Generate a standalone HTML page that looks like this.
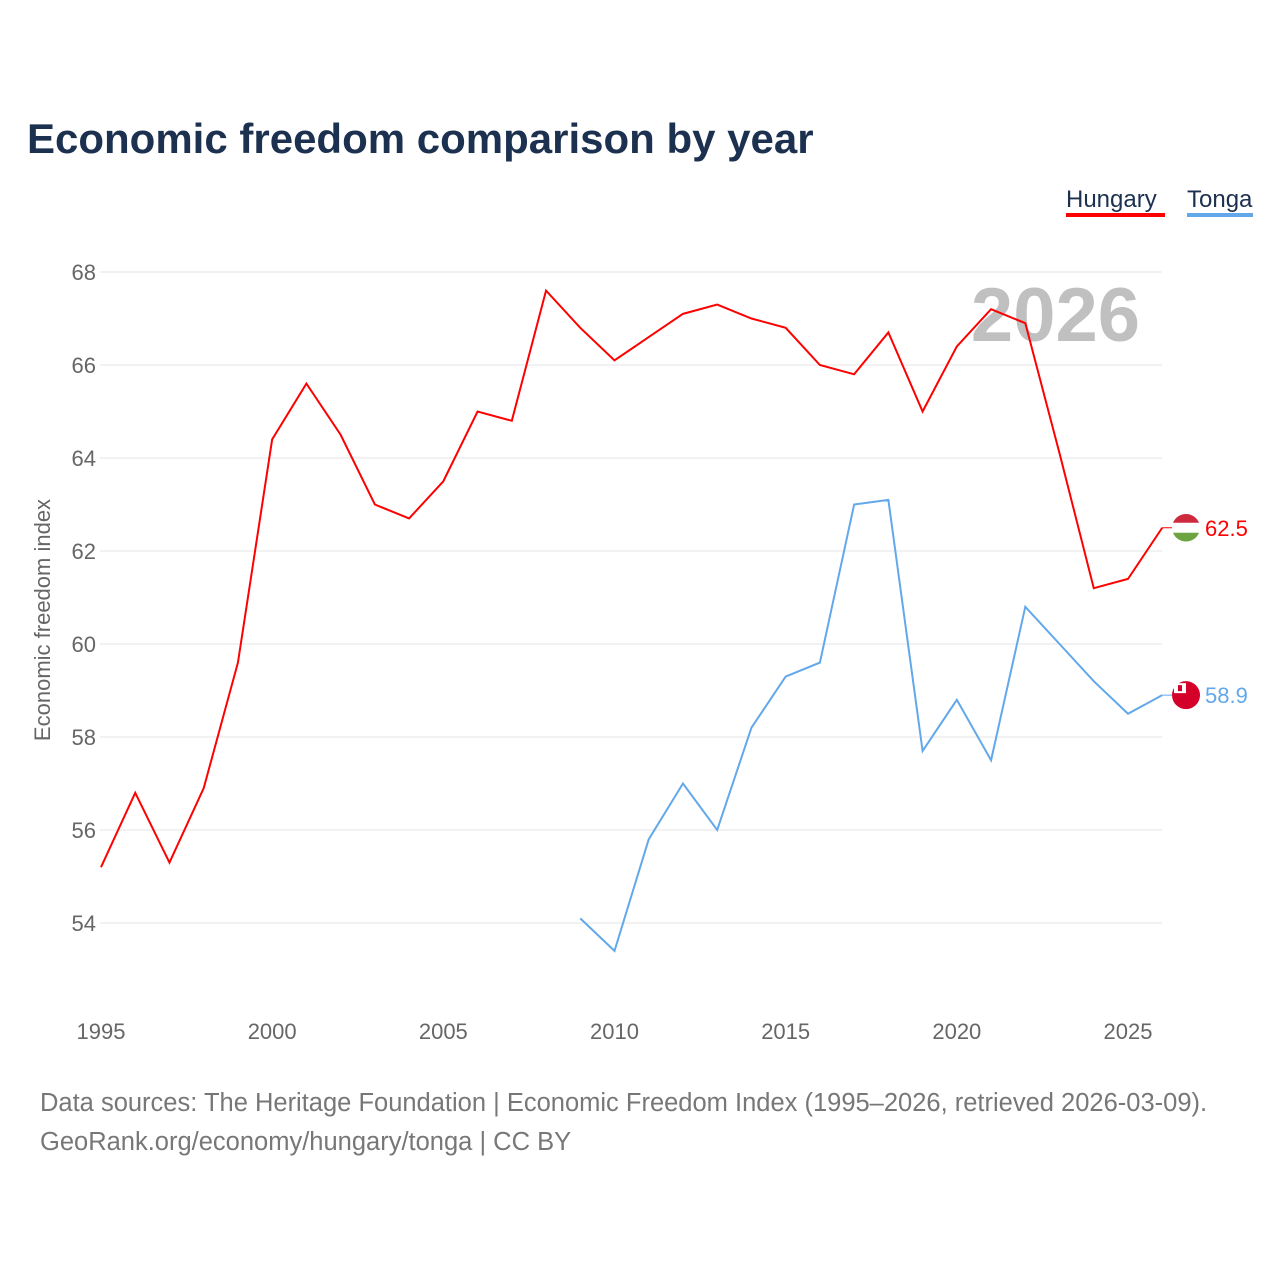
<!DOCTYPE html>
<html><head><meta charset="utf-8"><style>
body{margin:0;background:#fff;font-family:"Liberation Sans",sans-serif;}
</style></head><body>
<svg width="1280" height="1280" xmlns="http://www.w3.org/2000/svg">
<text x="27" y="153" font-size="42" font-weight="bold" fill="#1c3150">Economic freedom comparison by year</text>
<g>
<text x="1066" y="207" font-size="24" fill="#1c3150">Hungary</text>
<rect x="1066" y="213" width="99" height="4" fill="#ff0000"/>
<text x="1187" y="207" font-size="24" fill="#1c3150">Tonga</text>
<rect x="1187" y="213" width="66" height="4" fill="#62a8ea"/>
</g>
<text x="1140" y="341" font-size="76" font-weight="bold" fill="#c0c0c0" text-anchor="end">2026</text>
<g id="grid"></g><g id="lines"></g>
<text transform="translate(50,620) rotate(-90)" font-size="22" fill="#666" text-anchor="middle">Economic freedom index</text>
<text x="40" y="1111" font-size="25.5" fill="#777">Data sources: The Heritage Foundation | Economic Freedom Index (1995–2026, retrieved 2026-03-09).</text>
<text x="40" y="1150" font-size="25.5" fill="#777">GeoRank.org/economy/hungary/tonga | CC BY</text>
</svg>
<script>
const yTicks=[54,56,58,60,62,64,66,68];
const xTicks=[1995,2000,2005,2010,2015,2020,2025];
const hungaryYears=[1995,1996,1997,1998,1999,2000,2001,2002,2003,2004,2005,2006,2007,2008,2009,2010,2011,2012,2013,2014,2015,2016,2017,2018,2019,2020,2021,2022,2023,2024,2025,2026];
const hungaryValues=[55.2,56.8,55.3,56.9,59.6,64.4,65.6,64.5,63.0,62.7,63.5,65.0,64.8,67.6,66.8,66.1,66.6,67.1,67.3,67.0,66.8,66.0,65.8,66.7,65.0,66.4,67.2,66.9,64.1,61.2,61.4,62.5];
const tongaYears=[2009,2010,2011,2012,2013,2014,2015,2016,2017,2018,2019,2020,2021,2022,2023,2024,2025,2026];
const tongaValues=[54.1,53.4,55.8,57.0,56.0,58.2,59.3,59.6,63.0,63.1,57.7,58.8,57.5,60.8,60.0,59.2,58.5,58.9];
const NS="http://www.w3.org/2000/svg";
const xs=y=>101+(y-1995)*(1128-101)/30;
const ys=v=>272+(68-v)*(923-272)/14;
function mk(t,a,p){const e=document.createElementNS(NS,t);for(const k in a)e.setAttribute(k,a[k]);p.appendChild(e);return e;}
const g=document.getElementById('grid'),L=document.getElementById('lines');
yTicks.forEach(v=>{
 const l=mk('line',{x1:100,x2:1162,y1:ys(v),y2:ys(v),stroke:'#e6e6e6','stroke-width':1},g);
 
 
 const t=mk('text',{x:96,y:ys(v)+8,'font-size':22,fill:'#666','text-anchor':'end'},g);t.textContent=v;
 
 
});
xTicks.forEach(y=>{
 const t=mk('text',{x:xs(y),y:1039,'font-size':22,fill:'#666','text-anchor':'middle'},g);t.textContent=y;
 
 
});
function series(yrs,vals,col,name){
 const p=mk('polyline',{points:yrs.map((y,i)=>xs(y)+','+ys(vals[i])).join(' '),fill:'none',stroke:col,'stroke-width':2},L);
 
 
 const lx=xs(yrs[yrs.length-1]),ly=ys(vals[vals.length-1]);
 mk('line',{x1:lx,x2:1176,y1:ly,y2:ly,stroke:col,'stroke-width':1},L);
 const c=mk('circle',{cx:1186,cy:ly,r:14,fill:name==='hungary'?'#fff':'#d4002a'},L);
 
 
 if(name==='hungary'){
  mk('path',{d:`M1173 ${ly-5} A14 14 0 0 1 1199 ${ly-5} Z`,fill:'#cd2a3e'},L);
  mk('path',{d:`M1173 ${ly+5} A14 14 0 0 0 1199 ${ly+5} Z`,fill:'#6ea342'},L);
 } else {
  mk('rect',{x:1174,y:ly-12,width:12,height:10,fill:'#fff'},L);
  mk('rect',{x:1178,y:ly-10,width:4,height:6,fill:'#d4002a'},L);
 }
 const t=mk('text',{x:1205,y:ly+8,'font-size':22,fill:col},L);t.textContent=vals[vals.length-1].toFixed(1);
 
 
}
series(hungaryYears,hungaryValues,'#ff0000','hungary');
series(tongaYears,tongaValues,'#62a8ea','tonga');
</script>
</body></html>
